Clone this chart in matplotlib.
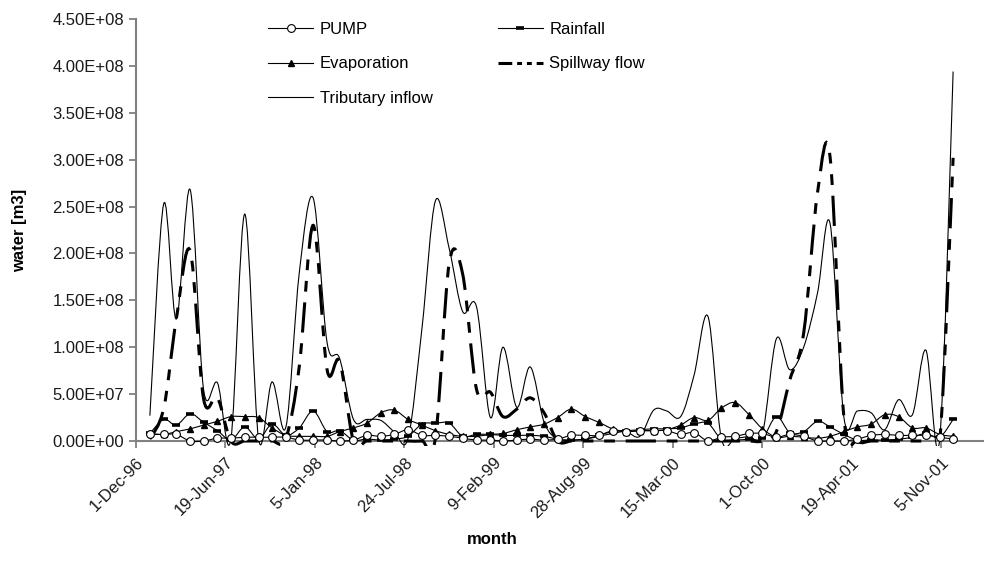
import numpy as np
import pandas as pd
import matplotlib
matplotlib.use("Agg")
import matplotlib.pyplot as plt
import matplotlib.dates as mdates
from matplotlib.path import Path
from matplotlib.patches import PathPatch, Rectangle
from matplotlib.lines import Line2D
from matplotlib.ticker import FuncFormatter

plt.rcParams['font.family'] = ['Liberation Sans', 'DejaVu Sans']

# monthly values, Jan-1997 .. Dec-2001, in units of 1e7 m3
months = pd.date_range('1997-01-01', periods=60, freq='MS')

pump = [0.7, 0.7, 0.7, 0.0, 0.0, 0.3, 0.3, 0.4, 0.4, 0.4,
        0.4, 0.1, 0.1, 0.1, 0.0, 0.1, 0.6, 0.5, 0.7, 1.2,
        0.6, 0.6, 0.5, 0.3, 0.1, 0.1, 0.0, 0.1, 0.2, 0.1,
        0.2, 0.6, 0.6, 0.6, 1.1, 1.0, 1.1, 1.1, 1.1, 0.7,
        0.9, 0.0, 0.4, 0.5, 0.8, 0.8, 0.4, 0.7, 0.5, 0.0,
        0.0, 0.0, 0.2, 0.6, 0.7, 0.6, 0.6, 0.6, 0.4, 0.2]

rainfall = [0.8, 2.3, 1.7, 2.9, 2.0, 1.1, 0.1, 1.5, 0.2, 1.8,
            0.6, 1.4, 3.2, 1.0, 1.1, 0.1, 0.2, 0.1, 0.2, 0.5,
            1.8, 1.9, 1.9, 0.5, 0.7, 0.7, 0.6, 0.6, 0.6, 0.5,
            0.2, 0.1, 0.2, 0.6, 1.0, 1.1, 1.2, 1.3, 1.3, 1.4,
            1.8, 1.9, 0.2, 0.1, 0.2, 0.3, 2.6, 0.9, 1.0, 2.1,
            1.5, 0.7, 0.1, 0.1, 0.1, 0.2, 0.4, 0.8, 0.4, 2.3]

evaporation = [0.8, 0.7, 1.0, 1.3, 1.7, 2.1, 2.6, 2.6, 2.5, 1.4,
               0.6, 0.5, 0.5, 0.5, 1.0, 1.4, 1.9, 3.0, 3.3, 2.3,
               1.7, 1.1, 0.7, 0.5, 0.5, 0.7, 0.8, 1.2, 1.5, 1.8,
               2.5, 3.4, 2.6, 2.0, 1.3, 1.0, 1.1, 1.1, 1.2, 1.7,
               2.5, 2.2, 3.5, 4.1, 2.8, 1.3, 0.4, 0.5, 0.4, 0.3,
               0.5, 1.0, 1.5, 1.8, 2.8, 2.6, 1.4, 1.4, 0.7, 0.5]

spillway = [0.2, 3.5, 13.0, 20.3, 4.5, 4.6, 0.0, 0.0, 0.0, 0.0,
            0.3, 8.0, 23.0, 7.6, 8.5, 0.0, 0.0, 0.0, 0.0, 0.0,
            0.0, 0.3, 19.0, 17.8, 5.5, 5.2, 2.6, 3.4, 4.6, 3.0,
            0.0, 0.0, 0.0, 0.0, 0.0, 0.0, 0.0, 0.0, 0.0, 0.0,
            0.0, 0.0, 0.0, 0.0, 0.0, 0.0, 1.0, 6.5, 11.5, 26.5,
            30.3, 2.5, 0.0, 0.0, 0.0, 0.0, 0.0, 0.0, 0.0, 30.2]

tributary = [2.7, 25.3, 13.0, 26.8, 5.5, 6.2, 0.2, 24.2, 0.2, 6.3,
             1.5, 18.0, 25.9, 10.5, 8.8, 2.3, 2.3, 2.2, 1.0, 0.3,
             12.0, 25.6, 20.5, 13.8, 14.3, 2.5, 10.0, 3.6, 7.9, 2.0,
             0.2, 0.1, 0.2, 0.5, 0.8, 1.0, 0.5, 3.3, 3.2, 2.6,
             7.0, 13.3, 0.3, 0.3, 0.5, 0.8, 10.9, 7.6, 10.0, 15.8,
             23.2, 2.5, 3.2, 3.0, 1.2, 4.4, 2.8, 9.7, 0.2, 39.4]

scale = 1e7


def smooth_path(x, y):
    # bezier curve through every point, like a spreadsheet "smoothed line"
    n = len(x)
    verts = [(x[0], y[0])]
    codes = [Path.MOVETO]
    for i in range(n - 1):
        xa, ya = (x[i - 1], y[i - 1]) if i > 0 else (x[i], y[i])
        xb, yb = (x[i + 2], y[i + 2]) if i + 2 < n else (x[i + 1], y[i + 1])
        c1 = (x[i] + (x[i + 1] - xa) / 6, y[i] + (y[i + 1] - ya) / 6)
        c2 = (x[i + 1] - (xb - x[i]) / 6, y[i + 1] - (yb - y[i]) / 6)
        verts += [c1, c2, (x[i + 1], y[i + 1])]
        codes += [Path.CURVE4] * 3
    return Path(verts, codes)


fig = plt.figure(figsize=(9.84, 5.73), dpi=100)
ax = fig.add_axes([136 / 984, 1 - 441 / 573, 848 / 984, 422 / 573])

xs = mdates.date2num(months)
spill_dash = (4.5, 1.6, 1.6, 1.6, 1.6, 1.6)

# let curves dip just a little under the x axis
clip_rect = Rectangle((0, -0.012), 1, 1.03, transform=ax.transAxes)

series = [
    (tributary, dict(lw=0.8), None),
    (spillway, dict(lw=2.2, dashes=spill_dash), None),
    (evaporation, dict(lw=0.8), dict(marker='^', ms=4.5, mfc='k', mec='k')),
    (rainfall, dict(lw=0.8), dict(marker='_', ms=6, mew=2.6, mec='k')),
    (pump, dict(lw=0.8), dict(marker='o', ms=5.6, mfc='white', mec='k', mew=0.8)),
]

for vals, lstyle, mstyle in series:
    ys = np.array(vals) * scale
    patch = PathPatch(smooth_path(xs, ys), fill=False, edgecolor='k',
                      linewidth=lstyle['lw'], zorder=3)
    if 'dashes' in lstyle:
        patch.set_linestyle((0, [d * lstyle['lw'] for d in lstyle['dashes']]))
    ax.add_patch(patch)
    patch.set_clip_path(clip_rect)
    if mstyle:
        ax.plot(xs, ys, ls='none', clip_on=False, zorder=4, **mstyle)

# axes
start = pd.Timestamp('1996-12-01')
ax.set_xlim(mdates.date2num(start), mdates.date2num(start + pd.Timedelta(days=1895)))
ax.set_ylim(0, 4.5e8)
ticks = [start + pd.Timedelta(days=200 * k) for k in range(10)]
ax.set_xticks(mdates.date2num(ticks))
ax.set_xticklabels([f"{d.day}-{d.strftime('%b-%y')}" for d in ticks],
                   rotation=45, ha='right', va='top', rotation_mode='anchor')
ax.set_yticks(np.arange(0, 4.51e8, 0.5e8))
ax.yaxis.set_major_formatter(FuncFormatter(lambda v, p: f"{v:.2E}"))

for side in ['top', 'right']:
    ax.spines[side].set_visible(False)
for side in ['left', 'bottom']:
    ax.spines[side].set_color('#808080')
    ax.spines[side].set_linewidth(1.5)
ax.tick_params(axis='both', colors='#808080', width=1.3, length=5, labelcolor='#1a1a1a',
               labelsize=12)
ax.tick_params(axis='x', pad=5)

ax.set_ylabel('water [m3]', fontsize=12, fontweight='bold')
ax.yaxis.set_label_coords(-0.128, 0.5)
ax.set_xlabel('month', fontsize=12, fontweight='bold')
ax.xaxis.set_label_coords(0.42, -0.215)

handles = [
    Line2D([], [], color='k', lw=0.8, marker='o', ms=5.6, mfc='white', mew=0.8),
    Line2D([], [], color='k', lw=0.8, marker='^', ms=4.5),
    Line2D([], [], color='k', lw=0.8),
    Line2D([], [], color='k', lw=0.8, marker='_', ms=6, mew=2.6),
    Line2D([], [], color='k', lw=2.2, dashes=spill_dash),
]
labels = ['PUMP', 'Evaporation', 'Tributary inflow', 'Rainfall', 'Spillway flow']
ax.legend(handles, labels, ncol=2, frameon=False, loc='upper left',
          bbox_to_anchor=(0.148, 1.008), fontsize=12, handlelength=2.7,
          handletextpad=0.4, labelspacing=1.15, columnspacing=3.9,
          borderpad=0.4, borderaxespad=0)

fig.savefig('out.png', dpi=100)
